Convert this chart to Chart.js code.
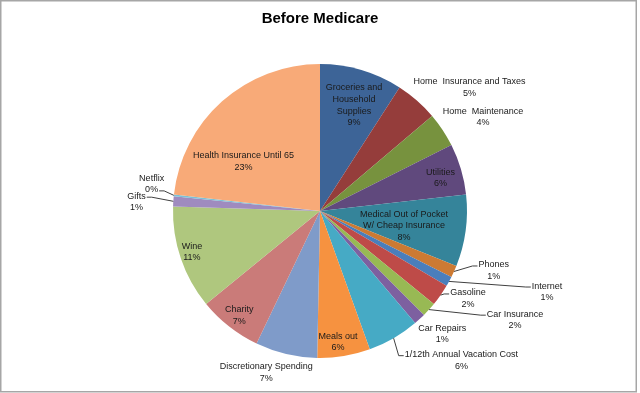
<!DOCTYPE html>
<html>
<head>
<meta charset="utf-8">
<script src="https://cdn.jsdelivr.net/npm/chart.js@4.4.1/dist/chart.umd.min.js"></script>
<style>
  html, body { margin: 0; padding: 0; background: #fff; }
  #wrap { position: relative; width: 640px; height: 393px; }
</style>
</head>
<body>
<div id="wrap"><canvas id="pie"></canvas></div>
<script>
/* ----------------------------------------------------------
   Data (share of budget in %)
   ---------------------------------------------------------- */
const categories = [
  ['Groceries and', 'Household', 'Supplies'],
  ['Home  Insurance and Taxes'],
  ['Home  Maintenance'],
  ['Utilities'],
  ['Medical Out of Pocket', 'W/ Cheap Insurance'],
  ['Phones'],
  ['Internet'],
  ['Gasoline'],
  ['Car Insurance'],
  ['Car Repairs'],
  ['1/12th Annual Vacation Cost'],
  ['Meals out'],
  ['Discretionary Spending'],
  ['Charity'],
  ['Wine'],
  ['Gifts'],
  ['Netflix'],
  ['Health Insurance Until 65'],
];

const shares = [9.1, 4.7, 3.8, 5.6, 7.9, 1.3, 1.1, 2.4, 1.6, 1.3, 5.7, 5.8, 6.8, 7.0, 11.4, 1.1, 0.2, 23.2];

const sliceColors = [
  '#3D6497', '#953D3B', '#77923E', '#60497D', '#35849A', '#CC7A33',
  '#4A7EBB', '#BE4B48', '#98B954', '#7D60A0', '#46AAC5', '#F69240',
  '#7F9BC9', '#CA7B79', '#AFC77E', '#9F8BBF', '#7DC1D6', '#F8AA78',
];

/* ----------------------------------------------------------
   Label placement: angle (deg, clockwise from 12 o'clock)
   and distance as a fraction of the radius
   ---------------------------------------------------------- */
const LABEL_LAYOUT = [
  { a: 17.8,  r: 0.755 },
  { a: 50.4,  r: 1.32 },
  { a: 60.0,  r: 1.28 },
  { a: 74.7,  r: 0.85 },
  { a: 100.1, r: 0.58 },
  { a: 109.0, r: 1.25, leader: 'right' },
  { a: 109.6, r: 1.64, leader: 'right' },
  { a: 120.7, r: 1.17, leader: 'right' },
  { a: 119.2, r: 1.52, leader: 'right' },
  { a: 135.2, r: 1.18 },
  { a: 136.6, r: 1.40, leader: 'right' },
  { a: 172.2, r: 0.90 },
  { a: 198.4, r: 1.16 },
  { a: 217.6, r: 0.90 },
  { a: 252.2, r: 0.915 },
  { a: 272.8, r: 1.25, leader: 'left', line: 0 },
  { a: 279.1, r: 1.16, leader: 'left', line: 1 },
  { a: 303.0, r: 0.62 },
];

const LABEL_FONT = "9px 'Liberation Sans', Arial, sans-serif";
const LINE_H = 11.7;

const sliceLabels = {
  id: 'sliceLabels',
  afterDatasetsDraw(chart) {
    const ctx = chart.ctx;
    const meta = chart.getDatasetMeta(0);
    const total = shares.reduce((s, v) => s + v, 0);
    ctx.save();
    ctx.font = LABEL_FONT;
    ctx.fillStyle = '#1a1a1a';
    ctx.strokeStyle = '#404040';
    ctx.lineWidth = 1;
    ctx.textAlign = 'center';
    ctx.textBaseline = 'middle';
    meta.data.forEach((arc, i) => {
      const lay = LABEL_LAYOUT[i];
      const { x, y, outerRadius, startAngle, endAngle } =
        arc.getProps(['x', 'y', 'outerRadius', 'startAngle', 'endAngle'], true);
      const th = lay.a * Math.PI / 180;
      const cx = x + Math.sin(th) * lay.r * outerRadius;
      const cy = y - Math.cos(th) * lay.r * outerRadius;
      const lines = [...categories[i], Math.round(shares[i] / total * 100) + '%'];
      const top = cy - LINE_H * lines.length / 2;
      lines.forEach((t, k) => ctx.fillText(t, cx, top + LINE_H * (k + 0.5)));

      if (lay.leader) {
        const mid = (startAngle + endAngle) / 2;
        const px = x + Math.cos(mid) * outerRadius;
        const py = y + Math.sin(mid) * outerRadius;
        const k = lay.line || 0;
        const w = ctx.measureText(lines[k]).width;
        const ly = top + LINE_H * (k + 0.5) + 1;
        ctx.beginPath();
        if (lay.leader === 'right') {
          const tx = cx - w / 2 - 1;
          ctx.moveTo(px, py);
          ctx.lineTo(tx - 5, ly);
          ctx.lineTo(tx, ly);
        } else {
          const tx = cx + w / 2 + 1;
          ctx.moveTo(tx, ly);
          ctx.lineTo(tx + 5, ly);
          ctx.lineTo(px, py);
        }
        ctx.stroke();
      }
    });
    ctx.restore();
  },
  afterDraw(chart) {
    const ctx = chart.ctx;
    ctx.save();
    ctx.strokeStyle = '#A6A6A6';
    ctx.lineWidth = 1.5;
    ctx.strokeRect(0.75, 0.75, 635.5, 391);
    ctx.restore();
  },
};

new Chart(document.getElementById('pie'), {
  type: 'pie',
  data: {
    labels: categories,
    datasets: [{
      data: shares,
      backgroundColor: sliceColors,
      borderWidth: 0,
    }],
  },
  options: {
    responsive: true,
    maintainAspectRatio: false,
    animation: false,
    layout: { padding: { top: 0, bottom: 35, left: 150, right: 150 } },
    plugins: {
      legend: { display: false },
      tooltip: { enabled: false },
      title: {
        display: true,
        text: 'Before Medicare',
        color: '#000',
        font: { family: "'Liberation Sans', Arial, sans-serif", size: 15, weight: 'bold', lineHeight: 1.2 },
        padding: { top: 9.5, bottom: 36.5 },
      },
    },
  },
  plugins: [sliceLabels],
});
</script>
</body>
</html>
